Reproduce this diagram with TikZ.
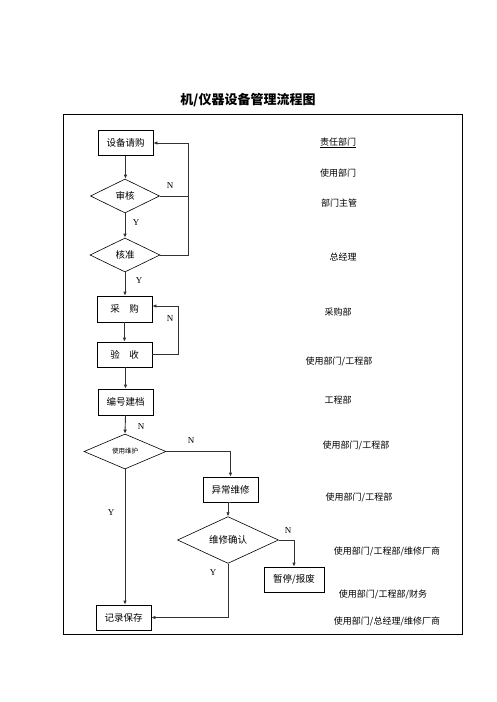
\documentclass[tikz,border=0pt]{standalone}
\usepackage{fontspec}
\setmainfont{Liberation Serif}
\newfontfamily\cjk{Noto Sans CJK SC}
\usetikzlibrary{shapes.geometric,arrows.meta}
\begin{document}
\begin{tikzpicture}[x=1pt,y=-1pt,
  stepbox/.style={draw,line width=0.8pt,minimum width=55pt,minimum height=25pt,inner sep=0pt,font=\cjk\fontsize{9.5}{11}\selectfont},
  decide/.style={draw,diamond,line width=0.6pt,inner sep=0pt,font=\cjk\fontsize{9.5}{11}\selectfont},
  conn/.style={line width=0.9pt,draw=black!80},
  arr/.style={conn,-{Latex[length=4pt,width=3.6pt]}},
  lbl/.style={font=\fontsize{9}{10}\selectfont,inner sep=0pt},
  dept/.style={font=\cjk\fontsize{9}{11}\selectfont,inner sep=0pt}]
\useasboundingbox (0,0) rectangle (496,702);
\node[font=\cjk\bfseries\fontsize{13}{15}\selectfont,inner sep=0pt] (title) at (248,100) {机/仪器设备管理流程图};
\draw[line width=1pt] (63,114) rectangle (462,634);

\node[stepbox] (req) at (125.5,143) {设备请购};
\node[decide,minimum width=69pt,minimum height=34pt] (sh) at (125,196) {审核};
\node[decide,minimum width=70pt,minimum height=34pt] (hz) at (125,255) {核准};
\node[stepbox,minimum height=26pt] (cg) at (124.5,309) {采\hspace{1em}购};
\node[stepbox] (ys) at (124.5,354.5) {验\hspace{1em}收};
\node[stepbox,minimum height=26pt] (bh) at (125.5,402) {编号建档};
\node[decide,minimum width=82pt,minimum height=35pt,font=\cjk\fontsize{6.5}{8}\selectfont] (sy) at (125,451.5) {使用维护};
\node[stepbox] (yc) at (230.5,489.5) {异常维修};
\node[decide,minimum width=101pt,minimum height=35pt] (wq) at (228,540) {维修确认};
\node[stepbox,minimum width=60pt] (zt) at (294,579.5) {暂停/报废};
\node[stepbox] (jl) at (123.5,617.5) {记录保存};

\coordinate (r1) at (188,143);
\coordinate (r2) at (178,306);

\draw[arr] (req.south) -- (req.south |- sh.north);
\draw[arr] (sh.south) -- (hz.north);
\draw[arr] (hz.south) -- (hz.south |- cg.north);
\draw[arr] (hz.east) -| (r1) -- (req.east |- r1);
\draw[conn] (sh.east) -- (sh.east -| r1);
\draw[arr] (cg.south -| 124.5,0) -- (ys.north);
\draw[arr] (ys.east) -| (r2) -- (cg.east |- r2);
\draw[arr] (ys.south) -- (ys.south -| bh.south) -- (bh.north);
\draw[arr] (bh.south) -- (sy.north);
\draw[arr] (sy.east) -| (yc.north);
\draw[arr] (yc.south) -- (yc.south -| wq.north) -- (wq.north);
\draw[arr] (wq.east) -| (zt.north);
\draw[arr] (wq.south) |- (jl.east);
\draw[arr] (sy.south) -- (sy.south |- jl.north);

\node[lbl] (n1) at (170,186) {N};
\node[lbl] (y1) at (136,223) {Y};
\node[lbl] (y2) at (139,281) {Y};
\node[lbl] (n2) at (170,319) {N};
\node[lbl] (n3) at (141,427) {N};
\node[lbl] (n4) at (191,441) {N};
\node[lbl] (y3) at (111,513) {Y};
\node[lbl] (n5) at (288,531) {N};
\node[lbl] (y4) at (213,573) {Y};

\node[dept] (d0) at (338,143) {\underline{责任部门}};
\node[dept] (d1) at (338,173) {使用部门};
\node[dept] (d2) at (339,203) {部门主管};
\node[dept] (d3) at (343,257) {总经理};
\node[dept] (d4) at (338,312) {采购部};
\node[dept] (d5) at (339,362) {使用部门/工程部};
\node[dept] (d6) at (338,400) {工程部};
\node[dept] (d7) at (356,446) {使用部门/工程部};
\node[dept] (d8) at (359,497) {使用部门/工程部};
\node[dept] (d9) at (387,551) {使用部门/工程部/维修厂商};
\node[dept] (d10) at (383,594) {使用部门/工程部/财务};
\node[dept] (d11) at (387,621) {使用部门/总经理/维修厂商};
\end{tikzpicture}
\end{document}
